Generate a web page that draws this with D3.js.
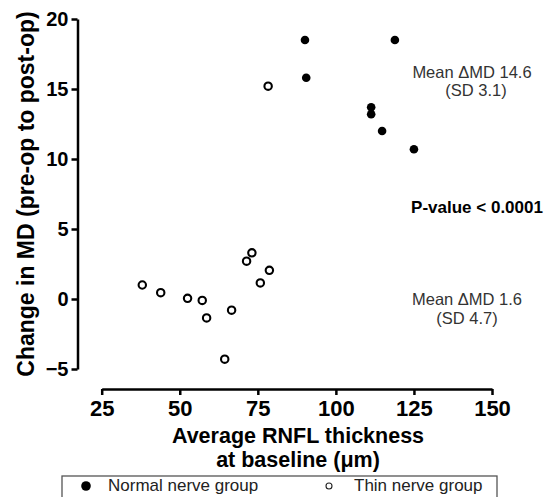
<!DOCTYPE html>
<html>
<head>
<meta charset="utf-8">
<script src="https://cdn.jsdelivr.net/npm/d3@7"></script>
<style>
  body { margin: 0; background: #fff; }
  svg { display: block; font-family: "Liberation Sans", Arial, sans-serif; }
  .axis path, .axis line { stroke: #000; stroke-width: 2.5; }
  .axis text { font-family: "Liberation Sans", Arial, sans-serif; font-weight: bold; fill: #000; }
</style>
</head>
<body>
<div id="chart"></div>
<script>
// data
var normalX = [90.1, 90.5, 118.9, 111.3, 111.3, 114.8, 125.0];
var normalY = [18.5, 15.8, 18.5, 13.7, 13.2, 12.0, 10.7];
var thinX = [38.0, 43.9, 52.5, 57.2, 58.6, 66.6, 64.4, 71.4, 73.1, 75.8, 78.7, 78.3];
var thinY = [1.0, 0.45, 0.05, -0.1, -1.35, -0.8, -4.3, 2.7, 3.3, 1.15, 2.05, 15.2];
var xTicks = [25, 50, 75, 100, 125, 150];
var yTicks = [-5, 0, 5, 10, 15, 20];
var groupNames = ['Normal nerve group', 'Thin nerve group'];
var groupNotes = [['Mean \u0394MD 14.6', '(SD 3.1)'], ['Mean \u0394MD 1.6', '(SD 4.7)']];
var pText = 'P-value < 0.0001';

// 畫布
var width = 544, height = 497;
var svg = d3.select('#chart').append('svg')
  .attr('width', width)
  .attr('height', height);

var x = d3.scaleLinear().domain([25, 150]).range([101.7, 492]);
var y = d3.scaleLinear().domain([-5, 20]).range([369, 19]);

// x軸
var xAxis = d3.axisBottom(x).tickValues(xTicks).tickSize(6).tickSizeOuter(0);
var gx = svg.append('g')
  .attr('class', 'axis')
  .attr('transform', 'translate(0,389)')
  .call(xAxis)
  .attr('font-family', null)
  .attr('font-size', null);
gx.selectAll('text')
  .attr('y', 27)
  .attr('dy', null)
  .style('font-size', '22px');

// y軸
var yAxis = d3.axisLeft(y).tickValues(yTicks).tickSize(6).tickPadding(3).tickSizeOuter(0);
var gy = svg.append('g')
  .attr('class', 'axis')
  .attr('transform', 'translate(77.5,0)')
  .call(yAxis)
  .attr('font-family', null)
  .attr('font-size', null);
gy.selectAll('text').style('font-size', '20px');

// 軸標題
svg.append('text')
  .attr('transform', 'translate(33.5,194) rotate(-90)')
  .attr('text-anchor', 'middle')
  .style('font-size', '23px')
  .style('font-weight', 'bold')
  .text('Change in MD (pre-op to post-op)');
var xTitle = svg.append('text')
  .attr('text-anchor', 'middle')
  .style('font-size', '21.5px')
  .style('font-weight', 'bold');
xTitle.append('tspan').attr('x', 298).attr('y', 443).text('Average RNFL thickness');
xTitle.append('tspan').attr('x', 298).attr('y', 467).text('at baseline (\u03bcm)');

// 點
var normalPts = normalX.map(function(d, i) { return {x: d, y: normalY[i]}; });
var thinPts = thinX.map(function(d, i) { return {x: d, y: thinY[i]}; });

svg.selectAll('circle.thin')
  .data(thinPts)
  .enter()
  .append('circle')
  .attr('class', 'thin')
  .attr('cx', d => x(d.x))
  .attr('cy', d => y(d.y))
  .attr('r', 3.7)
  .style('fill', '#fff')
  .style('stroke', '#000')
  .style('stroke-width', 2.1);

svg.selectAll('circle.normal')
  .data(normalPts)
  .enter()
  .append('circle')
  .attr('class', 'normal')
  .attr('cx', d => x(d.x))
  .attr('cy', d => y(d.y))
  .attr('r', 4.3)
  .style('fill', '#000');

// 註解文字
var notePos = [[[472, 78], [476, 96]], [[467, 305], [467, 324]]];
groupNotes.forEach(function(lines, g) {
  lines.forEach(function(t, i) {
    svg.append('text')
      .attr('x', notePos[g][i][0])
      .attr('y', notePos[g][i][1])
      .attr('text-anchor', 'middle')
      .style('font-size', '16.5px')
      .style('fill', '#333')
      .text(t);
  });
});
svg.append('text')
  .attr('x', 477)
  .attr('y', 213)
  .attr('text-anchor', 'middle')
  .style('font-size', '17px')
  .style('font-weight', 'bold')
  .text(pText);

// 圖例
svg.append('rect')
  .attr('x', 62)
  .attr('y', 476)
  .attr('width', 435)
  .attr('height', 40)
  .style('fill', 'none')
  .style('stroke', '#555')
  .style('stroke-width', 1.3);
svg.append('circle')
  .attr('cx', 86).attr('cy', 486).attr('r', 4.8)
  .style('fill', '#000');
svg.append('circle')
  .attr('cx', 329).attr('cy', 486).attr('r', 3)
  .style('fill', 'none').style('stroke', '#222').style('stroke-width', 1.1);
svg.selectAll('text.legend')
  .data(groupNames)
  .enter()
  .append('text')
  .attr('class', 'legend')
  .attr('x', (d, i) => i == 0 ? 108 : 354)
  .attr('y', 491)
  .style('font-size', '17px')
  .style('fill', '#222')
  .text(d => d);
</script>
</body>
</html>
